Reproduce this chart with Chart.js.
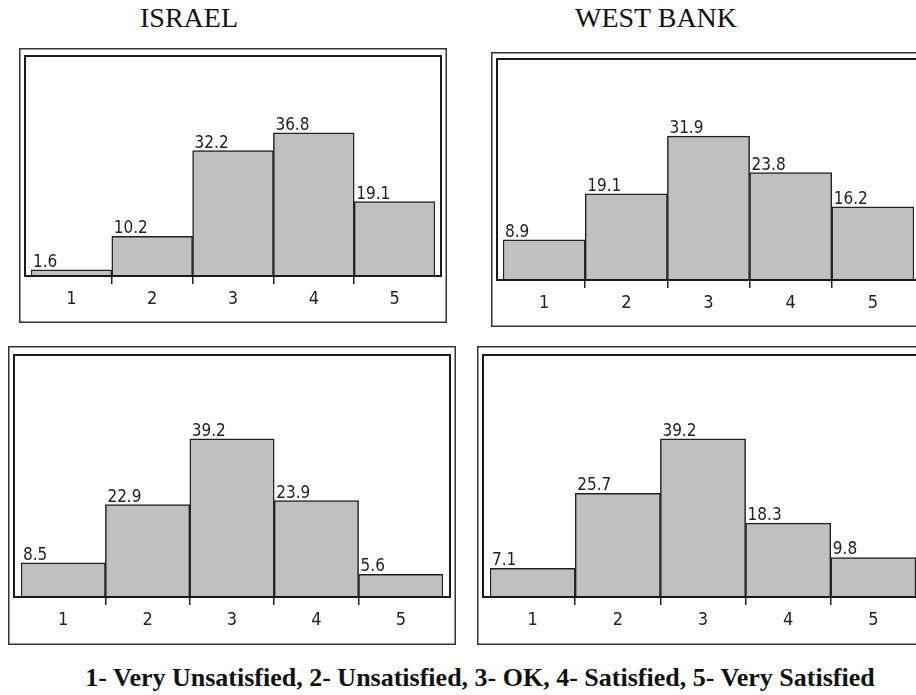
<!DOCTYPE html>
<html>
<head>
<meta charset="utf-8">
<script src="https://cdn.jsdelivr.net/npm/chart.js"></script>
<style>
  html, body { margin: 0; padding: 0; background: #fff; }
  body { width: 916px; height: 695px; position: relative; overflow: hidden; }
  .panel { position: absolute; }
  .head { position: absolute; top: 2px; font-family: 'Liberation Serif', serif; font-size: 28px; color: #111; white-space: nowrap; }
  #caption { position: absolute; left: 0; width: 960px; top: 663px; text-align: center;
             font-family: 'Liberation Serif', serif; font-weight: bold; font-size: 26px; color: #111; white-space: nowrap; }
</style>
</head>
<body>
<div class="head" style="left:140px">ISRAEL</div>
<div class="head" style="left:575px">WEST BANK</div>

<canvas id="p1" class="panel" width="428" height="275" style="left:19px;top:48px"></canvas>
<canvas id="p2" class="panel" width="440" height="275" style="left:491px;top:52px"></canvas>
<canvas id="p3" class="panel" width="448" height="299" style="left:8px;top:346px"></canvas>
<canvas id="p4" class="panel" width="450" height="299" style="left:477px;top:346px"></canvas>

<div id="caption">1- Very Unsatisfied, 2- Unsatisfied, 3- OK, 4- Satisfied, 5- Very Satisfied</div>

<script>
// rating categories (x axis)
const categories = ['1', '2', '3', '4', '5'];

// percentages
const israelTop = [1.6, 10.2, 32.2, 36.8, 19.1];
const westBankTop = [8.9, 19.1, 31.9, 23.8, 16.2];
const israelBottom = [8.5, 22.9, 39.2, 23.9, 5.6];
const westBankBottom = [7.1, 25.7, 39.2, 18.3, 9.8];

const labelFont = "'DejaVu Sans Condensed', 'DejaVu Sans', sans-serif";

// draws the double frame and the value labels on top of the bars
const framePlugin = {
  id: 'frames',
  afterDraw(chart, args, opts) {
    const c = chart.ctx;
    const a = chart.chartArea;
    const w = chart.width, h = chart.height;
    c.save();
    // outer box
    c.strokeStyle = '#333';
    c.lineWidth = 1.5;
    c.strokeRect(0.75, 0.75, w - 1.5, h - 1.5);
    // inner box, its bottom edge is the baseline
    c.strokeStyle = '#1a1a1a';
    c.lineWidth = 2;
    c.strokeRect(a.left - opts.inset, a.top, a.right - a.left + 2 * opts.inset, a.bottom - a.top);

    // value labels, left aligned on each bar
    const meta = chart.getDatasetMeta(0);
    const values = chart.data.datasets[0].data;
    c.fillStyle = '#222';
    c.font = '17px ' + labelFont;
    c.textAlign = 'left';
    c.textBaseline = 'alphabetic';
    meta.data.forEach((bar, i) => {
      const left = bar.x - bar.width / 2;
      c.fillText(values[i].toFixed(1), left + 2, bar.y - 3);
    });
    c.restore();
  }
};

function panel(id, values, ymax, pad, axisH, inset) {
  const ctx = document.getElementById(id).getContext('2d');
  return new Chart(ctx, {
    type: 'bar',
    data: {
      labels: categories,
      datasets: [{
        data: values,
        backgroundColor: '#c0c0c0',
        borderColor: '#222',
        borderWidth: 1.5,
        categoryPercentage: 1,
        barPercentage: 1
      }]
    },
    options: {
      responsive: false,
      animation: false,
      devicePixelRatio: 1,
      layout: { padding: { left: pad.left, right: pad.right, top: pad.top, bottom: 0 } },
      plugins: {
        legend: { display: false },
        tooltip: { enabled: false },
        frames: { inset: inset }
      },
      scales: {
        x: {
          grid: {
            offset: true,
            drawOnChartArea: false,
            tickLength: 8,
            lineWidth: 1.5,
            color: (c) => (c.index > 0 ? '#222' : 'rgba(0,0,0,0)')
          },
          border: { display: false },
          ticks: {
            color: '#222',
            padding: 5,
            font: { family: labelFont, size: 18 }
          },
          afterFit: (s) => { s.height = axisH; }
        },
        y: { display: false, min: 0, max: ymax }
      }
    },
    plugins: [framePlugin]
  });
}

panel('p1', israelTop, 56.5, { left: 12, right: 12, top: 8 }, 47, 6);
panel('p2', westBankTop, 49, { left: 12, right: 17, top: 7 }, 47, 6);
panel('p3', israelBottom, 60, { left: 13, right: 13, top: 9 }, 48, 7);
panel('p4', westBankBottom, 60, { left: 13, right: 11, top: 9 }, 48, 7);
</script>
</body>
</html>
